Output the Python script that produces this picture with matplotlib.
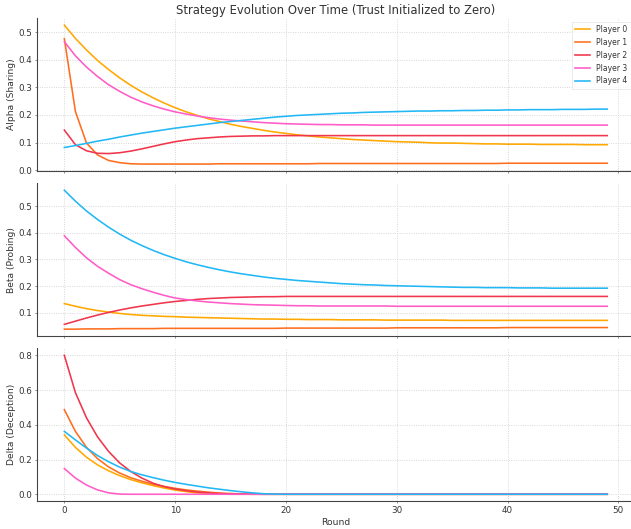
import matplotlib
matplotlib.use("Agg")
import matplotlib.pyplot as plt
import numpy as np

rounds = np.arange(50)
players = ["Player 0", "Player 1", "Player 2", "Player 3", "Player 4"]
colors = ["#FFA800", "#FF6E1F", "#F0364C", "#FF5CC8", "#22B8F5"]

# Alpha (sharing)
alpha_p0 = [0.525, 0.477, 0.435, 0.397, 0.364, 0.334, 0.307, 0.283, 0.262, 0.243,
            0.226, 0.211, 0.198, 0.186, 0.176, 0.166, 0.158, 0.151, 0.144, 0.138,
            0.133, 0.128, 0.124, 0.120, 0.117, 0.114, 0.111, 0.109, 0.107, 0.105,
            0.103, 0.102, 0.101, 0.099, 0.098, 0.098, 0.097, 0.096, 0.095, 0.095,
            0.094, 0.094, 0.094, 0.093, 0.093, 0.093, 0.093, 0.092, 0.092, 0.092]
alpha_p1 = [0.476, 0.212, 0.098, 0.055, 0.035, 0.027, 0.023, 0.022, 0.022, 0.022,
            0.022, 0.022, 0.022, 0.022, 0.023, 0.023, 0.023, 0.023, 0.023, 0.023,
            0.023, 0.023, 0.023, 0.024, 0.024, 0.024, 0.024, 0.024, 0.024, 0.024,
            0.024, 0.024, 0.024, 0.024, 0.024, 0.024, 0.024, 0.024, 0.024, 0.024,
            0.025, 0.025, 0.025, 0.025, 0.025, 0.025, 0.025, 0.025, 0.025, 0.025]
alpha_p2 = [0.145, 0.092, 0.070, 0.061, 0.060, 0.063, 0.069, 0.077, 0.086, 0.095,
            0.103, 0.109, 0.114, 0.117, 0.120, 0.122, 0.123, 0.124, 0.124, 0.125] + [0.125] * 30
alpha_p3 = [0.465, 0.414, 0.373, 0.339, 0.309, 0.285, 0.264, 0.247, 0.233, 0.221,
            0.211, 0.203, 0.196, 0.190, 0.185, 0.181, 0.178, 0.175, 0.172, 0.170,
            0.168, 0.167, 0.166, 0.165, 0.165, 0.164, 0.164, 0.164, 0.163, 0.163] + [0.163] * 20
alpha_p4 = [0.082, 0.089, 0.097, 0.105, 0.112, 0.120, 0.127, 0.134, 0.140, 0.146,
            0.152, 0.157, 0.162, 0.167, 0.172, 0.176, 0.180, 0.184, 0.188, 0.192,
            0.195, 0.198, 0.200, 0.202, 0.204, 0.206, 0.207, 0.209, 0.210, 0.211,
            0.212, 0.213, 0.214, 0.214, 0.215, 0.215, 0.216, 0.216, 0.217, 0.217,
            0.218, 0.218, 0.219, 0.219, 0.219, 0.220, 0.220, 0.220, 0.221, 0.221]

# Beta (probing)
beta_p0 = [0.134, 0.124, 0.115, 0.108, 0.102, 0.097, 0.093, 0.090, 0.088, 0.086,
           0.085, 0.083, 0.082, 0.081, 0.080, 0.079, 0.078, 0.077, 0.076, 0.076,
           0.075, 0.075, 0.074, 0.074, 0.074, 0.073, 0.073, 0.073, 0.073, 0.072,
           0.072, 0.072, 0.072, 0.072, 0.072, 0.071, 0.071, 0.071, 0.071, 0.071] + [0.071] * 10
beta_p1 = [0.038, 0.038, 0.039, 0.039, 0.039, 0.040, 0.040, 0.040, 0.040, 0.041] + \
          [0.041] * 10 + [0.042] * 10 + [0.043] * 10 + [0.044] * 10
beta_p2 = [0.056, 0.068, 0.080, 0.091, 0.101, 0.110, 0.118, 0.125, 0.131, 0.137,
           0.142, 0.146, 0.150, 0.153, 0.155, 0.157, 0.158, 0.159, 0.160, 0.160] + [0.161] * 30
beta_p3 = [0.389, 0.345, 0.306, 0.274, 0.248, 0.224, 0.205, 0.190, 0.177, 0.165,
           0.155, 0.149, 0.144, 0.140, 0.137, 0.134, 0.132, 0.130, 0.129, 0.128,
           0.127, 0.126, 0.126, 0.125, 0.125, 0.125, 0.125, 0.125, 0.125, 0.125] + [0.124] * 20
beta_p4 = [0.560, 0.519, 0.482, 0.450, 0.421, 0.395, 0.372, 0.352, 0.334, 0.318,
           0.304, 0.291, 0.280, 0.270, 0.261, 0.253, 0.246, 0.240, 0.234, 0.229,
           0.225, 0.221, 0.218, 0.215, 0.212, 0.209, 0.207, 0.205, 0.204, 0.202,
           0.201, 0.200, 0.199, 0.198, 0.197, 0.196, 0.195, 0.195, 0.194, 0.194,
           0.194, 0.193, 0.193, 0.193, 0.192, 0.192, 0.192, 0.192, 0.192, 0.192]

# Delta (deception)
delta_p0 = [0.342, 0.270, 0.213, 0.169, 0.135, 0.107, 0.084, 0.066, 0.050, 0.036,
            0.024, 0.015, 0.008, 0.004, 0.001] + [0.0] * 35
delta_p1 = [0.487, 0.362, 0.270, 0.205, 0.157, 0.122, 0.095, 0.075, 0.058, 0.045,
            0.034, 0.025, 0.018, 0.012, 0.007, 0.004, 0.002, 0.001] + [0.0] * 32
delta_p2 = [0.800, 0.585, 0.440, 0.330, 0.246, 0.180, 0.131, 0.093, 0.064, 0.044,
            0.030, 0.020, 0.013, 0.008, 0.004, 0.002, 0.001] + [0.0] * 33
delta_p3 = [0.148, 0.093, 0.053, 0.025, 0.008, 0.001] + [0.0] * 44
delta_p4 = [0.362, 0.313, 0.266, 0.223, 0.187, 0.156, 0.131, 0.112, 0.096, 0.081,
            0.068, 0.057, 0.047, 0.037, 0.029, 0.021, 0.014, 0.008, 0.003, 0.001] + [0.0] * 30

panels = [
    ("Alpha (Sharing)", [alpha_p0, alpha_p1, alpha_p2, alpha_p3, alpha_p4]),
    ("Beta (Probing)", [beta_p0, beta_p1, beta_p2, beta_p3, beta_p4]),
    ("Delta (Deception)", [delta_p0, delta_p1, delta_p2, delta_p3, delta_p4]),
]

DPI = 631 / 12
fig, axes = plt.subplots(3, 1, figsize=(12, 529 / DPI), dpi=DPI, sharex=True)
fig.subplots_adjust(left=37.2 / 631, right=634.4 / 631, top=1 - 18.2 / 529,
                    bottom=1 - 501.2 / 529, hspace=0.0805)

for ax, (label, series) in zip(axes, panels):
    for name, vals, c in zip(players, series, colors):
        ax.plot(rounds, vals, color=c, linewidth=2.2, label=name)
    ax.set_ylabel(label, fontsize=12.5, color="#333333")
    ax.grid(True, linestyle=":", color="#d0d0d0", linewidth=1.2)
    ax.spines["top"].set_visible(False)
    ax.spines["right"].set_visible(False)
    ax.spines["left"].set_color("#444444")
    ax.spines["bottom"].set_color("#444444")
    ax.spines["left"].set_linewidth(1.5)
    ax.spines["bottom"].set_linewidth(1.5)
    ax.tick_params(labelsize=12, colors="#444444", length=3, labelcolor="#333333")

axes[0].set_title("Strategy Evolution Over Time (Trust Initialized to Zero)",
                  fontsize=16, color="#333333", pad=6)
axes[0].legend(loc="upper right", fontsize=10.5, frameon=True, edgecolor="#dddddd",
               fancybox=False, labelcolor="#333333")
axes[2].set_xlabel("Round", fontsize=12.5, color="#333333")
axes[2].set_xticks([0, 10, 20, 30, 40, 50])
axes[1].set_yticks([0.1, 0.2, 0.3, 0.4, 0.5])

fig.savefig("out.png", dpi=DPI)
